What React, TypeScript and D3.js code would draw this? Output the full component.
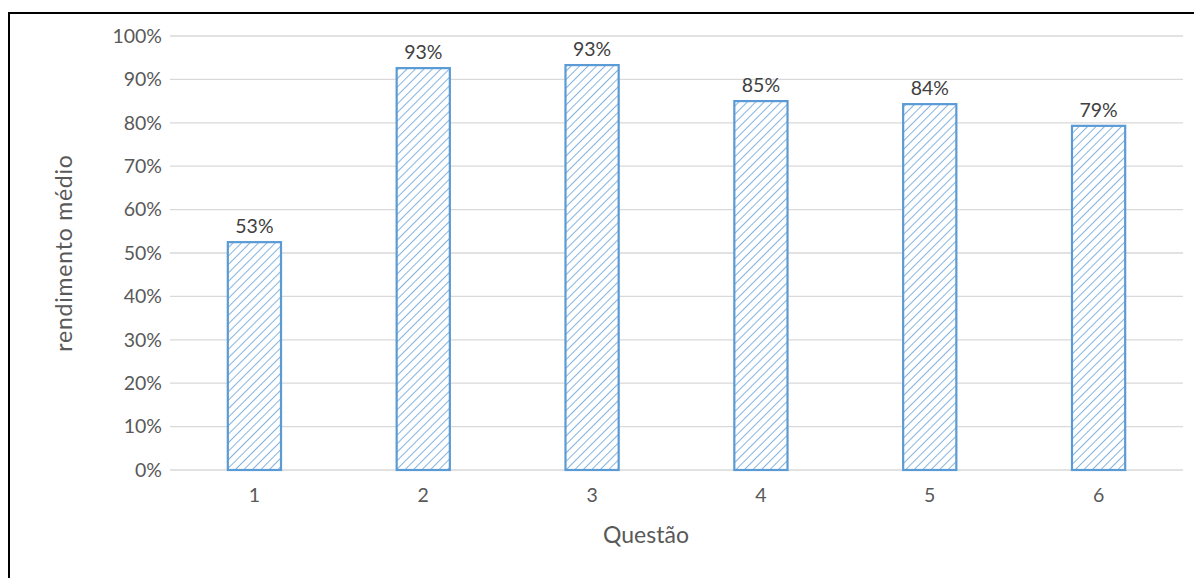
import * as d3 from 'd3';
import React, { useRef, useEffect } from 'react';

const questoes = ['1', '2', '3', '4', '5', '6'];
const rendimento = [0.525, 0.926, 0.933, 0.85, 0.843, 0.793];
const rotulos = ['53%', '93%', '93%', '85%', '84%', '79%'];
const yTicks = [0, 0.1, 0.2, 0.3, 0.4, 0.5, 0.6, 0.7, 0.8, 0.9, 1];

const width = 1194;
const height = 578;
const font = 'Lato, "Open Sans", sans-serif';
const blue = '#5B9BD5';

export default function App() {
    const ref = useRef<SVGSVGElement>(null);

    useEffect(() => {
        const svg = d3.select(ref.current);
        svg.selectAll('*').remove();

        const left = 170, right = 1183, top = 36, bottom = 470;

        const x = d3.scaleBand().domain(questoes).range([left, right])
            .paddingInner(0.685).paddingOuter(0.3425);
        const y = d3.scaleLinear().domain([0, 1]).range([bottom, top]);

        // hatch pattern
        const defs = svg.append('defs');
        const pat = defs.append('pattern')
            .attr('id', 'hatch')
            .attr('patternUnits', 'userSpaceOnUse')
            .attr('width', 6)
            .attr('height', 6)
            .attr('patternTransform', 'rotate(45)');
        pat.append('rect').attr('width', 6).attr('height', 6).attr('fill', 'white');
        pat.append('line')
            .attr('x1', 0).attr('y1', 0).attr('x2', 0).attr('y2', 6)
            .attr('stroke', blue).attr('stroke-width', 1.5);

        // outer frame
        svg.append('rect')
            .attr('x', 9).attr('y', 13)
            .attr('width', width + 20).attr('height', height + 20)
            .attr('fill', 'none').attr('stroke', 'black').attr('stroke-width', 2);

        // gridlines
        svg.append('g')
            .selectAll('line')
            .data(yTicks)
            .enter()
            .append('line')
            .attr('x1', left).attr('x2', right)
            .attr('y1', d => y(d)).attr('y2', d => y(d))
            .attr('stroke', '#d9d9d9').attr('stroke-width', 1.3);

        // y tick labels
        svg.append('g')
            .selectAll('text')
            .data(yTicks)
            .enter()
            .append('text')
            .attr('x', left - 8)
            .attr('y', d => y(d))
            .attr('dy', '0.35em')
            .attr('text-anchor', 'end')
            .attr('font-family', font)
            .attr('font-size', 19.5)
            .attr('fill', '#595959')
            .text(d => d3.format('.0%')(d));

        // bars
        svg.append('g')
            .selectAll('rect')
            .data(rendimento)
            .enter()
            .append('rect')
            .attr('x', (d, i) => x(questoes[i])!)
            .attr('y', d => y(d))
            .attr('width', x.bandwidth())
            .attr('height', d => bottom - y(d))
            .attr('fill', 'url(#hatch)')
            .attr('stroke', blue)
            .attr('stroke-width', 2.2);

        // data labels
        svg.append('g')
            .selectAll('text')
            .data(rendimento)
            .enter()
            .append('text')
            .attr('x', (d, i) => x(questoes[i])! + x.bandwidth() / 2)
            .attr('y', d => y(d) - 9)
            .attr('text-anchor', 'middle')
            .attr('font-family', font)
            .attr('font-size', 19.5)
            .attr('fill', '#404040')
            .text((d, i) => rotulos[i]);

        // x tick labels
        svg.append('g')
            .selectAll('text')
            .data(questoes)
            .enter()
            .append('text')
            .attr('x', d => x(d)! + x.bandwidth() / 2)
            .attr('y', bottom + 32)
            .attr('text-anchor', 'middle')
            .attr('font-family', font)
            .attr('font-size', 19.5)
            .attr('fill', '#595959')
            .text(d => d);

        // axis titles
        svg.append('text')
            .attr('transform', `translate(72, ${(top + bottom) / 2}) rotate(-90)`)
            .attr('text-anchor', 'middle')
            .attr('font-family', font)
            .attr('font-size', 23)
            .attr('letter-spacing', 0.8)
            .attr('fill', '#595959')
            .text('rendimento médio');

        svg.append('text')
            .attr('x', 646)
            .attr('y', 543)
            .attr('text-anchor', 'middle')
            .attr('font-family', font)
            .attr('font-size', 23)
            .attr('fill', '#595959')
            .text('Questão');
    }, []);

    return (
        <svg ref={ref} width={width} height={height}
            style={{ position: 'absolute', left: 0, top: 0, background: 'white' }} />
    );
}
